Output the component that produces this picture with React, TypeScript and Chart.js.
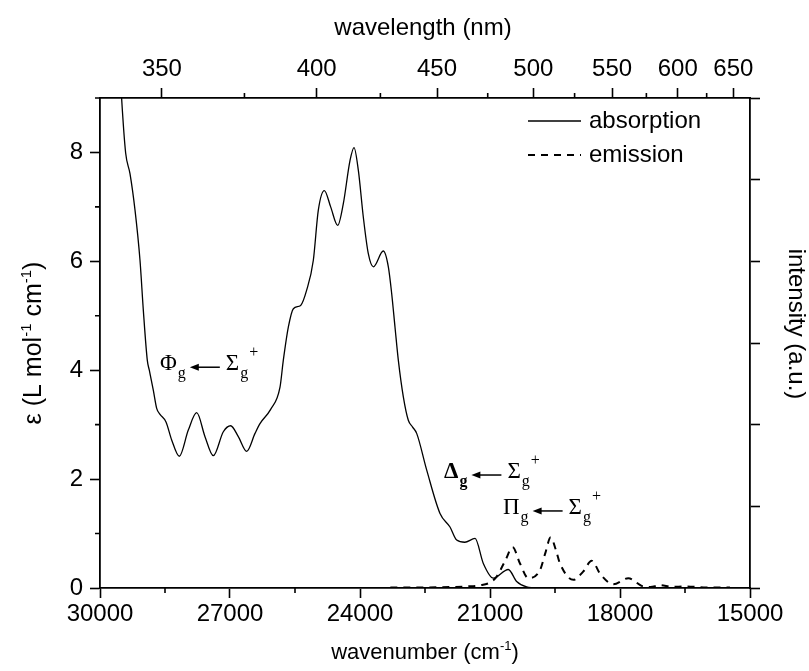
import React, { useEffect, useRef } from 'react';
import { Chart, registerables } from 'chart.js';

Chart.register(...registerables);

// ---------- data ----------
const absWavenumber = [
  29580, 29500, 29408, 29308, 29192, 29077, 29000, 28908, 28862, 28769, 28692, 28615, 28477, 28346,
  28170, 27962, 27769, 27577, 27385, 27154, 26985, 26808, 26615, 26423, 26308, 26062, 25846, 25770,
  25654, 25538, 25369, 25231, 25077, 24962, 24823, 24677, 24515, 24385, 24231, 24138, 24038, 23923,
  23808, 23692, 23462, 23346, 23269, 23192, 23115, 23000, 22885, 22790, 22692, 22462, 22154, 21923,
  21769, 21580, 21346, 21154, 20923, 20577, 20385, 20154, 19900, 19500,
];
const absEpsilon = [
  10.2, 8.98, 7.99, 7.61, 6.94, 6.02, 5.1, 4.18, 4.0, 3.63, 3.3, 3.19, 3.05, 2.72,
  2.42, 2.9, 3.22, 2.78, 2.43, 2.87, 2.98, 2.78, 2.51, 2.84, 3.02, 3.28, 3.69, 4.18,
  4.79, 5.13, 5.19, 5.47, 6.02, 6.94, 7.3, 7.0, 6.66, 7.06, 7.85, 8.09, 7.67, 6.81,
  6.14, 5.9, 6.19, 5.9, 5.41, 4.79, 4.18, 3.51, 3.08, 2.96, 2.84, 2.17, 1.37, 1.12,
  0.88, 0.84, 0.91, 0.45, 0.18, 0.34, 0.12, 0.02, 0.0, 0.0,
];

const emWavenumber = [
  23300, 22500, 21800, 21500, 21231, 21000, 20846, 20650, 20477, 20308, 20115, 19846, 19720, 19600,
  19480, 19385, 19077, 18850, 18654, 18450, 18154, 17808, 17500, 17300, 17077, 16800, 16500, 16000,
  15462,
];
const emIntensity = [
  0.01, 0.01, 0.02, 0.03, 0.05, 0.1, 0.21, 0.5, 0.75, 0.45, 0.18, 0.33, 0.65, 0.93,
  0.7, 0.45, 0.15, 0.3, 0.5, 0.25, 0.07, 0.18, 0.04, 0.02, 0.05, 0.02, 0.03, 0.01,
  0.01,
];

// axis ticks
const bottomMajorTicks = [30000, 27000, 24000, 21000, 18000, 15000];
const bottomMinorTicks = [28500, 25500, 22500, 19500, 16500];
const leftMajorTicks = [0, 2, 4, 6, 8];
const leftMinorTicks = [1, 3, 5, 7, 9];
const topMajorWavelengths = [350, 400, 450, 500, 550, 600, 650];
const topMinorWavelengths = [375, 425, 475, 525, 575, 625];
const rightTicks = [0, 1.5, 3, 4.5, 6, 7.5, 9];

// transition labels (anchor in data coordinates)
const transitionStates = ['Φ', 'Δ', 'Π'];
const transitionBold = [false, true, false];
const transitionWavenumber = [28615, 22062, 20700];
const transitionEpsilon = [4.0, 2.02, 1.36];

const SANS = '"Liberation Sans", Arial, sans-serif';
const SERIF = '"Liberation Serif", "Times New Roman", serif';
const FONT_SIZE = 24;

type Part = { t: string; sup?: boolean };

function measureParts(ctx: CanvasRenderingContext2D, parts: Part[], size: number) {
  let w = 0;
  for (const p of parts) {
    ctx.font = `${p.sup ? Math.round(size * 0.6) : size}px ${SANS}`;
    w += ctx.measureText(p.t).width;
  }
  return w;
}

function drawParts(ctx: CanvasRenderingContext2D, parts: Part[], cx: number, baseY: number, size: number) {
  const total = measureParts(ctx, parts, size);
  let x = cx - total / 2;
  ctx.textAlign = 'left';
  ctx.textBaseline = 'alphabetic';
  for (const p of parts) {
    const s = p.sup ? Math.round(size * 0.6) : size;
    ctx.font = `${s}px ${SANS}`;
    ctx.fillText(p.t, x, p.sup ? baseY - size * 0.42 : baseY);
    x += ctx.measureText(p.t).width;
  }
}

const decorPlugin = {
  id: 'decor',
  afterDraw(chart: any) {
    const ctx: CanvasRenderingContext2D = chart.ctx;
    const ca = chart.chartArea;
    const sx = chart.scales.x;
    const sxt = chart.scales.xTop;
    const sy = chart.scales.y;
    ctx.save();
    ctx.strokeStyle = '#000';
    ctx.fillStyle = '#000';
    ctx.lineWidth = 1.6;

    // minor ticks
    ctx.beginPath();
    for (const v of bottomMinorTicks) {
      const px = sx.getPixelForValue(v);
      ctx.moveTo(px, ca.bottom);
      ctx.lineTo(px, ca.bottom + 5);
    }
    for (const w of topMinorWavelengths) {
      const px = sxt.getPixelForValue(1e7 / w);
      ctx.moveTo(px, ca.top);
      ctx.lineTo(px, ca.top - 5);
    }
    for (const v of leftMinorTicks) {
      const py = sy.getPixelForValue(v);
      ctx.moveTo(ca.left, py);
      ctx.lineTo(ca.left - 5, py);
    }
    ctx.stroke();

    // axis titles
    const midX = (ca.left + ca.right) / 2;
    const midY = (ca.top + ca.bottom) / 2;
    drawParts(ctx, [{ t: 'wavelength (nm)' }], midX - 2, 35, FONT_SIZE);
    drawParts(ctx, [{ t: 'wavenumber (cm' }, { t: '-1', sup: true }, { t: ')' }], midX, 659, 22);

    ctx.save();
    ctx.translate(41, midY);
    ctx.rotate(-Math.PI / 2);
    drawParts(
      ctx,
      [{ t: 'ε (L mol' }, { t: '-1', sup: true }, { t: ' cm' }, { t: '-1', sup: true }, { t: ')' }],
      0,
      0,
      25
    );
    ctx.restore();

    ctx.save();
    ctx.translate(789, midY - 19);
    ctx.rotate(Math.PI / 2);
    drawParts(ctx, [{ t: 'intensity (a.u.)' }], 0, 0, FONT_SIZE);
    ctx.restore();

    // legend
    chart.data.datasets.forEach((ds: any, i: number) => {
      const y = ca.top + 23 + i * 34;
      ctx.save();
      ctx.lineWidth = ds.borderWidth;
      ctx.setLineDash(ds.borderDash || []);
      ctx.beginPath();
      ctx.moveTo(ca.right - 222, y);
      ctx.lineTo(ca.right - 169, y);
      ctx.stroke();
      ctx.restore();
      ctx.font = `${FONT_SIZE}px ${SANS}`;
      ctx.textAlign = 'left';
      ctx.textBaseline = 'middle';
      ctx.fillText(ds.label, ca.right - 161, y);
    });

    // transition annotations
    transitionStates.forEach((st, i) => {
      const bold = transitionBold[i] ? 'bold ' : '';
      let x = sx.getPixelForValue(transitionWavenumber[i]);
      const y = sy.getPixelForValue(transitionEpsilon[i]);
      ctx.textAlign = 'left';
      ctx.textBaseline = 'alphabetic';
      ctx.font = `${bold}23px ${SERIF}`;
      ctx.fillText(st, x, y);
      x += ctx.measureText(st).width;
      ctx.font = `${bold}16px ${SERIF}`;
      ctx.fillText('g', x + 1, y + 8);
      x += ctx.measureText('g').width + 5;
      // arrow (pointing left)
      const ay = y - 3;
      ctx.lineWidth = 1.5;
      ctx.beginPath();
      ctx.moveTo(x + 6, ay);
      ctx.lineTo(x + 30, ay);
      ctx.stroke();
      ctx.beginPath();
      ctx.moveTo(x, ay);
      ctx.lineTo(x + 9, ay - 3.5);
      ctx.lineTo(x + 9, ay + 3.5);
      ctx.closePath();
      ctx.fill();
      x += 36;
      ctx.font = `23px ${SERIF}`;
      ctx.fillText('Σ', x, y);
      x += ctx.measureText('Σ').width;
      ctx.font = `16px ${SERIF}`;
      ctx.fillText('g', x + 1, y + 8);
      x += ctx.measureText('g').width + 2;
      ctx.fillText('+', x, y - 13);
    });

    ctx.restore();
  },
};

export default function App() {
  const canvasRef = useRef<HTMLCanvasElement | null>(null);

  useEffect(() => {
    const canvas = canvasRef.current;
    if (!canvas) return;
    const tickFont = { family: SANS, size: FONT_SIZE };
    const gridCommon = {
      drawOnChartArea: false,
      drawTicks: true,
      tickLength: 10,
      tickWidth: 1.6,
      tickColor: '#000',
    };
    const borderCommon = { display: true, color: '#000', width: 1.8 };

    const chart = new Chart(canvas, {
      type: 'line',
      data: {
        datasets: [
          {
            label: 'absorption',
            data: absWavenumber.map((x, i) => ({ x, y: absEpsilon[i] })),
            borderColor: '#000',
            borderWidth: 1.3,
            pointRadius: 0,
            cubicInterpolationMode: 'monotone',
            xAxisID: 'x',
            yAxisID: 'y',
          },
          {
            label: 'emission',
            data: emWavenumber.map((x, i) => ({ x, y: emIntensity[i] })),
            borderColor: '#000',
            borderWidth: 2,
            borderDash: [7, 6],
            pointRadius: 0,
            cubicInterpolationMode: 'monotone',
            xAxisID: 'x',
            yAxisID: 'y2',
          },
        ],
      },
      options: {
        animation: false,
        responsive: false,
        devicePixelRatio: 1,
        layout: { padding: 0 },
        plugins: { legend: { display: false }, tooltip: { enabled: false }, title: { display: false } },
        scales: {
          x: {
            type: 'linear',
            position: 'bottom',
            min: 15000,
            max: 30000,
            reverse: true,
            afterBuildTicks: (s: any) => {
              s.ticks = bottomMajorTicks.map((v) => ({ value: v }));
            },
            afterFit: (s: any) => {
              s.height = 83;
            },
            ticks: {
              font: tickFont,
              color: '#000',
              padding: 2,
              maxRotation: 0,
              autoSkip: false,
              callback: (v: any) => String(v),
            },
            grid: gridCommon,
            border: borderCommon,
          },
          xTop: {
            type: 'linear',
            position: 'top',
            min: 15000,
            max: 30000,
            reverse: true,
            afterBuildTicks: (s: any) => {
              s.ticks = topMajorWavelengths.map((w) => ({ value: 1e7 / w }));
            },
            afterFit: (s: any) => {
              s.height = 98;
            },
            ticks: {
              font: tickFont,
              color: '#000',
              padding: 4,
              maxRotation: 0,
              autoSkip: false,
              callback: (v: any) => String(Math.round(1e7 / Number(v))),
            },
            grid: gridCommon,
            border: borderCommon,
          },
          y: {
            type: 'linear',
            position: 'left',
            min: 0,
            max: 9,
            afterBuildTicks: (s: any) => {
              s.ticks = leftMajorTicks.map((v) => ({ value: v }));
            },
            afterFit: (s: any) => {
              s.width = 100;
            },
            ticks: { font: tickFont, color: '#000', padding: 7, callback: (v: any) => String(v) },
            grid: gridCommon,
            border: borderCommon,
          },
          y2: {
            type: 'linear',
            position: 'right',
            min: 0,
            max: 9,
            afterBuildTicks: (s: any) => {
              s.ticks = rightTicks.map((v) => ({ value: v }));
            },
            afterFit: (s: any) => {
              s.width = 59;
            },
            ticks: { font: tickFont, color: '#000', callback: () => '' },
            grid: gridCommon,
            border: borderCommon,
          },
        },
      } as any,
      plugins: [decorPlugin],
    });
    return () => chart.destroy();
  }, []);

  return (
    <canvas
      ref={canvasRef}
      width={809}
      height={671}
      style={{ position: 'fixed', left: 0, top: 0, width: 809, height: 671, display: 'block', background: '#fff' }}
    />
  );
}
